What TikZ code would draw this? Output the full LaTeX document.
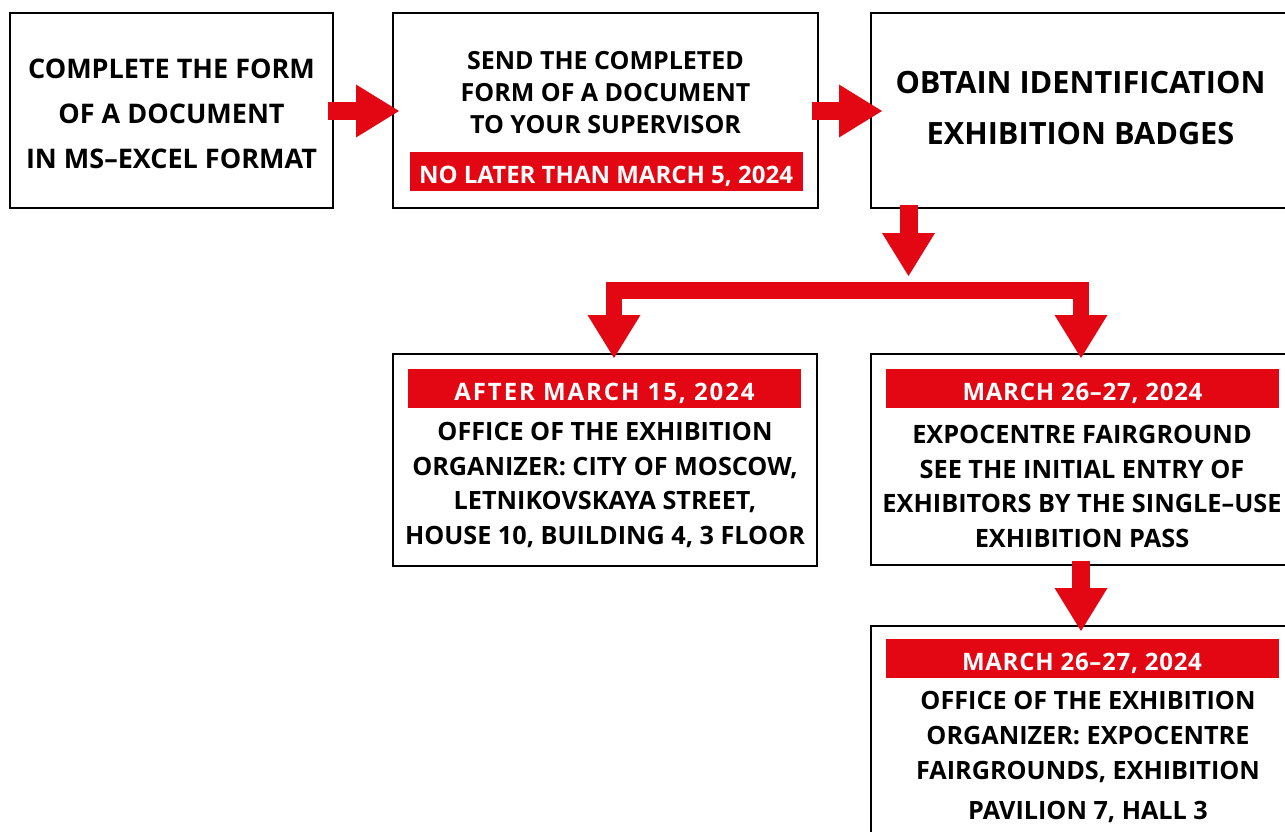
\documentclass[tikz,border=0pt]{standalone}
\usepackage{fontspec}
\setmainfont{Open Sans}
\usetikzlibrary{arrows.meta, positioning, calc}
\definecolor{exRed}{RGB}{227,6,19}

\begin{document}
\begin{tikzpicture}[x=1pt,y=-1pt,
  >={Triangle[length=43pt,width=53pt,line width=0pt]},
  stepbox/.style={draw=black,line width=2.2pt,fill=white,anchor=north west,
                  inner sep=0pt,outer sep=0pt},
  steptext/.style={align=center,inner sep=0pt},
  datebar/.style={fill=exRed,text=white,font=\fontsize{24}{26}\selectfont\bfseries,
                  minimum width=393pt,minimum height=39pt,inner sep=0pt,
                  text height=23pt,text depth=0pt},
  flow/.style={exRed,line width=18pt,->},
  bus/.style={exRed,line width=16.5pt,line join=miter,<->}]

\useasboundingbox (0,0) rectangle (1285,831);

% ===== TOP ROW =====
\node[stepbox,minimum width=323pt,minimum height=195pt] (form) at (10,13) {};
\node[steptext,font=\fontsize{27}{45}\selectfont\bfseries] (formtxt)
   at ($(form.center)+(0,3)$) {COMPLETE THE FORM\\OF A DOCUMENT\\IN MS–EXCEL FORMAT};

\node[stepbox,minimum width=425pt,minimum height=195pt] (send)
   at ($(form.north east)+(60,0)$) {};
\node[steptext,font=\fontsize{25}{32}\selectfont\bfseries] (sendtxt)
   at ($(send.north)+(0,80)$) {SEND THE COMPLETED\\FORM OF A DOCUMENT\\TO YOUR SUPERVISOR};
\node[datebar] (senddate) at ($(send.north)+(0.5,158.5)$) {NO LATER THAN MARCH 5, 2024};

\node[stepbox,minimum width=425pt,minimum height=195pt] (badges)
   at ($(send.north east)+(53,0)$) {};
\node[steptext,font=\fontsize{30.7}{51}\selectfont\bfseries] (badgestxt)
   at ($(badges.north)+(-3,95)$) {OBTAIN IDENTIFICATION\\EXHIBITION BADGES};

% ===== SECOND ROW =====
\node[stepbox,minimum width=424pt,minimum height=212pt] (office)
   at ($(send.south west)+(0,146)$) {};
\node[datebar,font=\fontsize{24}{26}\selectfont\bfseries\addfontfeature{LetterSpace=8}]
   (officedate) at ($(office.north)+(-0.5,34.5)$) {AFTER MARCH 15, 2024};
\node[steptext,font=\fontsize{25.2}{34.7}\selectfont\bfseries] (officetxt)
   at ($(office.north)+(0,131)$)
   {OFFICE OF THE EXHIBITION\\ORGANIZER: CITY OF MOSCOW,\\LETNIKOVSKAYA STREET,\\HOUSE 10, BUILDING 4, 3 FLOOR};

\node[stepbox,minimum width=425pt,minimum height=211pt] (fair)
   at ($(badges.south west)+(0,146)$) {};
\node[datebar,font=\fontsize{24}{26}\selectfont\bfseries\addfontfeature{LetterSpace=3}]
   (fairdate) at ($(fair.north)+(-1,34.5)$) {MARCH 26–27, 2024};
\node[steptext,font=\fontsize{25.3}{34.7}\selectfont\bfseries] (fairtxt)
   at ($(fair.north)+(-1.5,132.5)$)
   {EXPOCENTRE FAIRGROUND\\SEE THE INITIAL ENTRY OF\\EXHIBITORS BY THE SINGLE–USE\\EXHIBITION PASS};

% ===== THIRD ROW =====
\node[stepbox,minimum width=425pt,minimum height=230pt] (pavilion)
   at ($(fair.south west)+(0,61)$) {};
\node[datebar,font=\fontsize{24}{26}\selectfont\bfseries\addfontfeature{LetterSpace=3}]
   (paviliondate) at ($(pavilion.north)+(-1.5,32.5)$) {MARCH 26–27, 2024};
\node[steptext,font=\fontsize{25.2}{35}\selectfont\bfseries] (paviliontxt)
   at ($(pavilion.north)+(4.5,131)$)
   {OFFICE OF THE EXHIBITION\\ORGANIZER: EXPOCENTRE\\FAIRGROUNDS, EXHIBITION\\[5pt]PAVILION 7, HALL 3};

% ===== ARROWS =====
\coordinate (split) at ($(badges.south west)+(37.5,68)$);
\draw[flow] ($(form.east)+(-5,0.5)$) -- ($(send.west)+(6,0.5)$);
\draw[flow] ($(send.east)+(-6,0.5)$) -- ($(badges.west)+(11,0.5)$);
\draw[flow] ($(badges.south west)+(37.5,-3)$) -- (split);
\draw[bus] ($(office.north)+(9,4)$) |- ($(split)+(0,14.5)$) -| ($(fair.north)+(-2.5,4)$);
\draw[flow] ($(fair.south)+(-2.5,-4)$) -- ($(pavilion.north)+(-2.5,5)$);
\end{tikzpicture}
\end{document}
